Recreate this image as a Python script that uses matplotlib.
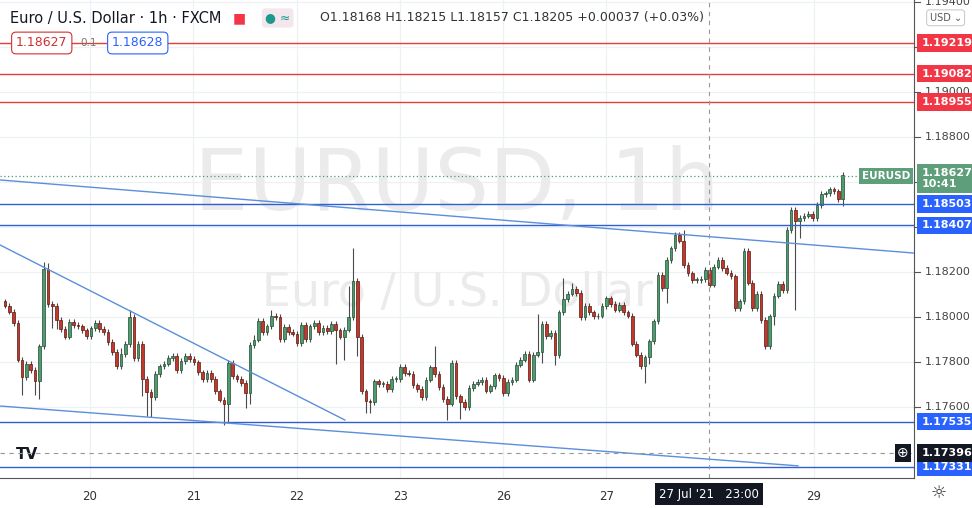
import matplotlib
matplotlib.use("Agg")
import matplotlib.pyplot as plt
from matplotlib.transforms import blended_transform_factory
import numpy as np

# ── data (hourly EURUSD) ────────────────────────────────────────────────────
first_open = 1.18069
closes = [
    1.18050, 1.18024, 1.17973, 1.17810, 1.17733, 1.17792, 1.17765, 1.17714, 1.17869, 1.18212,
    1.18058, 1.18050, 1.17987, 1.17946, 1.17913, 1.17977, 1.17965, 1.17958, 1.17940, 1.17916,
    1.17949, 1.17973, 1.17946, 1.17933, 1.17888, 1.17844, 1.17780, 1.17836, 1.17879, 1.17999,
    1.17817, 1.17881, 1.17724, 1.17666, 1.17644, 1.17746, 1.17780, 1.17792, 1.17817, 1.17828,
    1.17765, 1.17805, 1.17828, 1.17813, 1.17798, 1.17754, 1.17724, 1.17751, 1.17724, 1.17669,
    1.17632, 1.17614, 1.17795, 1.17736, 1.17724, 1.17706, 1.17662, 1.17876, 1.17899, 1.17984,
    1.17933, 1.17958, 1.18005, 1.17999, 1.17902, 1.17955, 1.17933, 1.17926, 1.17884,
    1.17965, 1.17902, 1.17958, 1.17973, 1.17931, 1.17950, 1.17936, 1.17968, 1.17940, 1.17913,
    1.17943, 1.17999, 1.18162, 1.17910, 1.17669, 1.17625, 1.17622, 1.17714, 1.17702, 1.17703,
    1.17680, 1.17725, 1.17725, 1.17777, 1.17751, 1.17748, 1.17696, 1.17680, 1.17644, 1.17721,
    1.17776, 1.17746, 1.17688, 1.17635, 1.17614, 1.17795, 1.17647, 1.17622, 1.17600, 1.17684,
    1.17703, 1.17711, 1.17721, 1.17672, 1.17691, 1.17740, 1.17728, 1.17662, 1.17711, 1.17721,
    1.17788, 1.17810, 1.17836, 1.17721, 1.17832, 1.17842, 1.17970, 1.17916, 1.17928, 1.17829,
    1.18020, 1.18079, 1.18103, 1.18124, 1.18106, 1.17999, 1.18050,
    1.18021, 1.18002, 1.18006, 1.18049, 1.18083, 1.18058, 1.18032, 1.18054, 1.18020, 1.18006,
    1.17881, 1.17832, 1.17780, 1.17821, 1.17891, 1.17980, 1.18187, 1.18128, 1.18254, 1.18305,
    1.18365, 1.18339, 1.18231, 1.18194, 1.18165, 1.18165, 1.18169, 1.18209, 1.18143, 1.18224,
    1.18254, 1.18217, 1.18197, 1.18180, 1.18039, 1.18069, 1.18295, 1.18153, 1.18039, 1.18103,
    1.17987, 1.17869, 1.18002, 1.18095, 1.18147, 1.18120, 1.18387, 1.18476, 1.18428, 1.18439,
    1.18450, 1.18458, 1.18439, 1.18498, 1.18547, 1.18550, 1.18567, 1.18558, 1.18523, 1.18631,
]
# wick lengths beyond the body, in 0.00001 units; typical wick plus the notable ones
typical_wick = 12
upper_wick = {9: 34, 10: 30, 29: 33, 80: 139, 81: 144, 100: 93, 124: 173, 130: 93,
              132: 26, 158: 48, 174: 10, 196: 70, 27: 25, 58: 20, 62: 25}
lower_wick = {4: 82, 7: 60, 8: 77, 11: 100, 12: 40, 32: 77, 33: 108, 34: 89, 51: 93,
              52: 83, 56: 67, 57: 50, 77: 148, 79: 103, 82: 85, 84: 52, 85: 49, 103: 74,
              106: 76, 125: 47, 128: 41, 149: 74, 150: 30, 154: 67, 179: 37, 184: 396,
              185: 77, 195: 30}

red_levels = [1.19219, 1.19082, 1.18955]
blue_levels = [1.18503, 1.18407, 1.17535, 1.17331]
# trendlines: (x0, p0, x1, p1) in candle-index / price
trendlines = [(-1.16, 1.18609, 211.6, 1.18284),
              (-1.16, 1.18320, 79.1, 1.17542),
              (-1.16, 1.17604, 184.6, 1.17338)]
last_price = 1.18627
cross_price = 1.17396
cross_idx = 163.9
day_ticks = [19.8, 43.8, 68.0, 92.0, 116.0, 140.0, 188.3]
day_labels = ["20", "21", "22", "23", "26", "27", "29"]
price_ticks = [1.176, 1.178, 1.180, 1.182, 1.184, 1.186, 1.188, 1.190, 1.192, 1.194]
hidden_ticks = [1.184, 1.186, 1.192]   # covered by the coloured price boxes

GREEN, GREEN_EDGE = "#4f9b6e", "#1f4d33"
RED, RED_EDGE = "#c0392b", "#5c1711"
LINE_BLUE = "#2f5fd0"
TREND_BLUE = "#5b8edb"
LEVEL_RED = "#e0403a"

fig = plt.figure(figsize=(9.72, 5.08), dpi=100)
ax = fig.add_axes([0, 30 / 508, 914 / 972, 478 / 508])
ax.set_xlim(-1.16, 211.6)
ax.set_ylim(1.17284, 1.19409)
for s in ["top", "left"]:
    ax.spines[s].set_visible(False)
ax.spines["right"].set_color("#555")
ax.spines["bottom"].set_color("#555")
ax.set_xticks([])
ax.set_yticks([])

# grid
for p in price_ticks:
    ax.axhline(p, color="#edf0f5", lw=0.9, zorder=0)
for d in day_ticks:
    ax.axvline(d, color="#edf0f5", lw=0.9, zorder=0)

# watermark
ax.text(0.5, 0.61, "EURUSD, 1h", transform=ax.transAxes, ha="center", va="center",
        fontsize=62, color="#ebebeb", zorder=0)
ax.text(0.5, 0.385, "Euro / U.S. Dollar", transform=ax.transAxes, ha="center", va="center",
        fontsize=33, color="#ebebeb", zorder=0)

# candles
opens = [first_open] + closes[:-1]
for i, (o, c) in enumerate(zip(opens, closes)):
    hi = max(o, c) + upper_wick.get(i, typical_wick) * 1e-5
    lo = min(o, c) - lower_wick.get(i, typical_wick) * 1e-5
    ax.vlines(i, lo, hi, color="#4a4a4a", lw=0.8, zorder=2)
    up = c >= o
    h = max(abs(c - o), 0.00004)
    ax.bar(i, h, bottom=min(o, c), width=0.62, color=GREEN if up else RED,
           edgecolor=GREEN_EDGE if up else RED_EDGE, lw=0.5, zorder=3)

# levels
for p in red_levels:
    ax.axhline(p, color=LEVEL_RED, lw=1.0, zorder=4)
for p in blue_levels:
    ax.axhline(p, color=LINE_BLUE, lw=1.0, zorder=4)
for x0, p0, x1, p1 in trendlines:
    ax.plot([x0, x1], [p0, p1], color=TREND_BLUE, lw=1.0, zorder=4)
ax.axhline(last_price, color=GREEN, lw=0.9, ls=(0, (1, 2)), zorder=4)
ax.axhline(cross_price, color="#999", lw=0.8, ls=(0, (4, 4)), zorder=4)
ax.axvline(cross_idx, color="#999", lw=0.8, ls=(0, (4, 4)), zorder=4)

# right price scale
tr = blended_transform_factory(ax.transAxes, ax.transData)
for p in price_ticks:
    ax.plot([1.0, 1.007], [p, p], transform=tr, color="#555", lw=0.8, clip_on=False)
    if p in hidden_ticks:
        continue
    ax.text(1.012, p, f"{p:.5f}", transform=tr, ha="left", va="center",
            fontsize=8, color="#444", clip_on=False)


def price_box(p, txt, fc, tc="white"):
    ax.text(1.008, p, txt, transform=tr, ha="left", va="center", fontsize=8,
            color=tc, fontweight="bold", clip_on=False, zorder=10,
            bbox=dict(boxstyle="square,pad=0.35", fc=fc, ec="none"))


for p in red_levels:
    price_box(p, f"{p:.5f}", "#f23645")
for p in blue_levels:
    price_box(p, f"{p:.5f}", "#2962ff")
price_box(cross_price, f"{cross_price:.5f}", "#131722")
ax.text(1.008, last_price - 0.00012, f"{last_price:.5f}\n10:41", transform=tr,
        ha="left", va="center", fontsize=8, color="white", fontweight="bold",
        linespacing=1.15, clip_on=False, zorder=10,
        bbox=dict(boxstyle="square,pad=0.35", fc="#5e9e7a", ec="none"))
ax.text(0.996, last_price, "EURUSD", transform=tr, ha="right", va="center", fontsize=7.5,
        color="white", fontweight="bold", zorder=10,
        bbox=dict(boxstyle="square,pad=0.3", fc="#5e9e7a", ec="none"))
ax.text(1.017, 1.1933, "USD ⌄", transform=tr, ha="left", va="center", fontsize=7,
        color="#555", clip_on=False,
        bbox=dict(boxstyle="round,pad=0.3", fc="white", ec="#ccc", lw=0.8))
ax.text(0.988, cross_price, "⊕", transform=tr, ha="center", va="center", fontsize=10,
        color="white", zorder=10,
        bbox=dict(boxstyle="square,pad=0.15", fc="#131722", ec="none"))

# bottom date axis
trx = blended_transform_factory(ax.transData, ax.transAxes)
for d, lab in zip(day_ticks, day_labels):
    ax.text(d, -0.025, lab, transform=trx, ha="center", va="top", fontsize=8.5,
            color="#333", clip_on=False)
ax.text(cross_idx, -0.02, "27 Jul '21   23:00", transform=trx, ha="center", va="top",
        fontsize=8.5, color="white", clip_on=False, zorder=10,
        bbox=dict(boxstyle="square,pad=0.35", fc="#131722", ec="none"))
fig.text(0.966, 0.03, "☼", ha="center", va="center", fontsize=13, color="#333")
ax.text(0.03, 0.05, "TV", transform=ax.transAxes, ha="center", va="center",
        fontsize=11, fontweight="bold", color="#131722")

# header
fig.text(10 / 972, 1 - 18 / 508, "Euro / U.S. Dollar · 1h · FXCM", ha="left", va="center",
         fontsize=10.5, color="#131722")
fig.text(233 / 972, 1 - 18 / 508, "■", ha="left", va="center", fontsize=10, color="#f23645")
fig.text(265 / 972, 1 - 18 / 508, "● ≈", ha="left", va="center", fontsize=9,
         color="#1a9a8a", bbox=dict(boxstyle="round,pad=0.25", fc="#f3e6ec", ec="none"))
fig.text(320 / 972, 1 - 18 / 508, "O1.18168 H1.18215 L1.18157 C1.18205 +0.00037 (+0.03%)",
         ha="left", va="center", fontsize=9, color="#333")
fig.text(16 / 972, 1 - 43 / 508, "1.18627", ha="left", va="center", fontsize=9,
         color="#d32f2f", bbox=dict(boxstyle="round,pad=0.35", fc="white", ec="#d32f2f", lw=0.8))
fig.text(80 / 972, 1 - 43 / 508, "0.1", ha="left", va="center", fontsize=7.5, color="#777")
fig.text(112 / 972, 1 - 43 / 508, "1.18628", ha="left", va="center", fontsize=9,
         color="#2962ff", bbox=dict(boxstyle="round,pad=0.35", fc="white", ec="#2962ff", lw=0.8))

fig.savefig("out.png", dpi=100)
